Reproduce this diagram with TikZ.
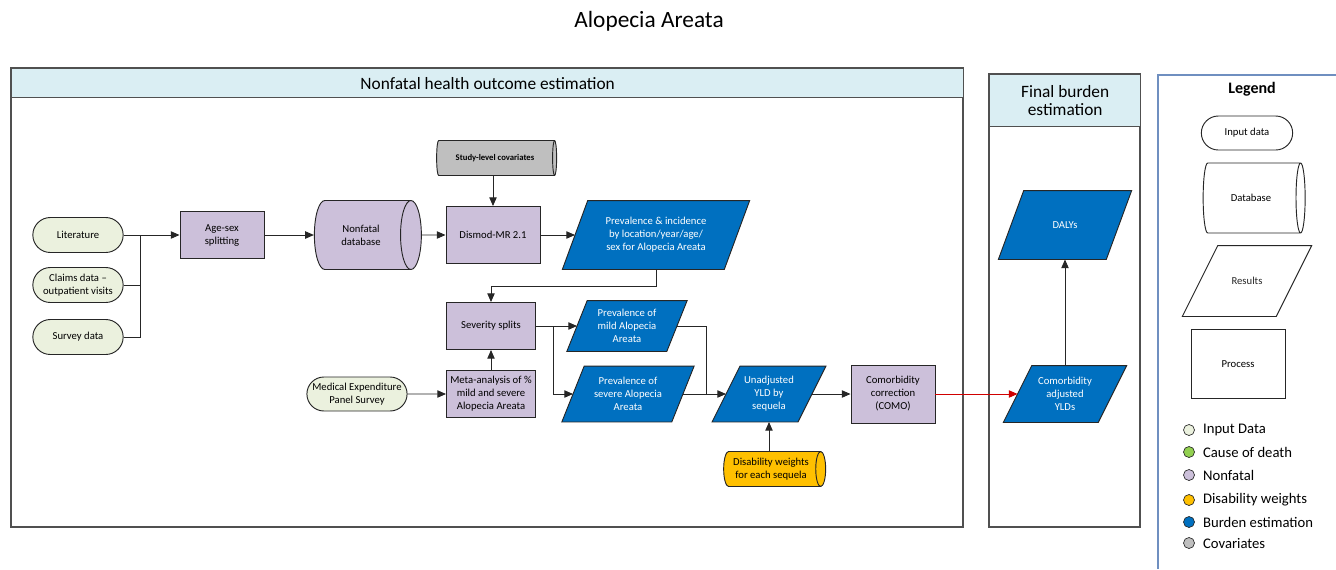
\documentclass[tikz,border=0pt]{standalone}
\usepackage{fontspec}
\setmainfont{Carlito}
\usepackage{tikz}
\usetikzlibrary{arrows.meta,positioning,shapes.geometric,shapes.misc,calc}

\definecolor{inputgreen}{HTML}{EBF1DE}
\definecolor{codgreen}{HTML}{92D050}
\definecolor{nonfatal}{HTML}{CCC0DA}
\definecolor{dweight}{HTML}{FFC000}
\definecolor{burden}{HTML}{0070C0}
\definecolor{covar}{HTML}{BFBFBF}
\definecolor{headfill}{HTML}{DAEEF3}
\definecolor{legline}{HTML}{6F8FC0}
\definecolor{bk90}{HTML}{262626}
\definecolor{bk70}{HTML}{505050}
\definecolor{arrowred}{HTML}{D00000}

% one unit = one pixel of the sheet
\newlength{\pxu}
\setlength{\pxu}{0.75pt}
\newcommand{\boxfont}{\fontsize{8}{9.75}\selectfont}

% results box: a rectangle whose sides lean to the right,
% the lean given as half-offset / height
\makeatletter
\def\skewratio{0.2}
\pgfdeclareshape{slantbox}{
  \inheritsavedanchors[from=rectangle]
  \inheritanchorborder[from=rectangle]
  \inheritanchor[from=rectangle]{center}
  \inheritanchor[from=rectangle]{north}
  \inheritanchor[from=rectangle]{south}
  \inheritanchor[from=rectangle]{east}
  \inheritanchor[from=rectangle]{west}
  \inheritanchor[from=rectangle]{mid}
  \inheritanchor[from=rectangle]{base}
  \backgroundpath{%
    \southwest \pgf@xa=\pgf@x \pgf@ya=\pgf@y
    \northeast \pgf@xb=\pgf@x \pgf@yb=\pgf@y
    \pgf@xc=\pgf@yb \advance\pgf@xc by -\pgf@ya
    \pgf@xc=\skewratio\pgf@xc
    \advance\pgf@xa by -\pgf@xc \edef\sk@bl{\the\pgf@xa}%
    \advance\pgf@xa by 2\pgf@xc \edef\sk@tl{\the\pgf@xa}%
    \advance\pgf@xb by \pgf@xc  \edef\sk@tr{\the\pgf@xb}%
    \advance\pgf@xb by -2\pgf@xc \edef\sk@br{\the\pgf@xb}%
    \edef\sk@bot{\the\pgf@ya}\edef\sk@top{\the\pgf@yb}%
    \pgfpathmoveto{\pgfqpoint{\sk@bl}{\sk@bot}}%
    \pgfpathlineto{\pgfqpoint{\sk@tl}{\sk@top}}%
    \pgfpathlineto{\pgfqpoint{\sk@tr}{\sk@top}}%
    \pgfpathlineto{\pgfqpoint{\sk@br}{\sk@bot}}%
    \pgfpathclose
  }
}
\makeatother

\tikzset{
  skew ratio/.code={\def\skewratio{#1}},
  inputbox/.style={
    rounded rectangle, draw=bk90, fill=#1, line width=0.7pt,
    minimum width=93\pxu, minimum height=35\pxu,
    font=\boxfont, align=center, inner sep=1pt
  },
  inputbox/.default=inputgreen,
  procbox/.style={
    rectangle, draw=bk90, fill=#1, line width=0.7pt,
    font=\boxfont, align=center, inner sep=2pt
  },
  procbox/.default=nonfatal,
  % cylinder sizes: minimum width is across, minimum height along the axis
  dbbox/.style={
    cylinder, aspect=0.9, draw=bk90, fill=#1, line width=0.7pt,
    font=\boxfont, align=center, inner sep=1pt
  },
  dbbox/.default=nonfatal,
  resultbox/.style={
    slantbox, draw=bk90, fill=#1, line width=0.7pt,
    text=white, font=\boxfont, align=center, inner sep=1pt
  },
  resultbox/.default=burden,
  lanehead/.style={
    rectangle, draw=bk70, fill=headfill, line width=1pt,
    anchor=north west, align=center,
    font=\fontsize{13}{13.5}\selectfont
  },
  frameline/.style={draw=bk70, line width=1pt},
  flowarrow/.style={
    -{Triangle[length=6.5pt,width=5.5pt]}, line width=0.7pt, draw=#1
  },
  flowarrow/.default=bk90,
  flowline/.style={line width=0.7pt, draw=bk90},
  legdot/.style={
    circle, draw=bk90, fill=#1, line width=0.5pt,
    minimum size=11\pxu, inner sep=0pt
  },
  legtext/.style={font=\fontsize{11}{13}\selectfont, inner sep=0pt}
}

\begin{document}
\begin{tikzpicture}[x=0.75pt, y=-0.75pt]
\useasboundingbox (0,0) rectangle (1336,569);

\node[font=\fontsize{17.5}{21}\selectfont] (title) at (649,21) {Alopecia Areata};

% swim lanes
\draw[frameline] (11,68) rectangle (963,527);
\node[lanehead, minimum width=952\pxu, minimum height=29\pxu] (nfhead) at (11,68)
  {Nonfatal health outcome estimation};
\draw[frameline] (989,74) rectangle (1140,527);
\node[lanehead, minimum width=151\pxu, minimum height=52\pxu] (fbhead) at (989,74)
  {Final burden\\estimation};

% input data
\node[inputbox] (lit) at (78,235) {Literature};
\node[inputbox] (claims) at (78,285) {Claims data --\\outpatient visits};
\node[inputbox] (survey) at (78,337) {Survey data};
\node[inputbox, minimum width=99\pxu, minimum height=34\pxu] (meps) at (357,394)
  {Medical Expenditure\\Panel Survey};

% nonfatal pipeline
\node[procbox, minimum width=84\pxu, minimum height=47\pxu] (agesex) at (222,235) {Age-sex\\splitting};
\node[dbbox, minimum width=69\pxu, minimum height=107\pxu] (nfdb) at (361,235) {Nonfatal\\database};
\node[dbbox=covar, aspect=0.4, minimum width=35\pxu, minimum height=120\pxu,
  font=\fontsize{6.5}{8}\selectfont\bfseries] (covars) at (495,158) {Study-level covariates};
\node[procbox, minimum width=94\pxu, minimum height=57\pxu] (dismod) at (493,235) {Dismod-MR 2.1};
\node[resultbox, skew ratio=0.184, minimum width=161\pxu, minimum height=68\pxu] (previnc) at (656,235)
  {Prevalence \& incidence\\by location/year/age/\\sex for Alopecia Areata};

\node[procbox, minimum width=89\pxu, minimum height=47\pxu] (sevsplit) at (491,326) {Severity splits};
\node[procbox, minimum width=89\pxu, minimum height=47\pxu] (meta) at (491,394)
  {Meta-analysis of \%\\mild and severe\\Alopecia Areata};
\node[resultbox, minimum width=99\pxu, minimum height=50\pxu] (mild) at (627,326)
  {Prevalence of\\mild Alopecia\\Areata};
\node[resultbox, minimum width=109\pxu, minimum height=55\pxu] (severe) at (628,394)
  {Prevalence of\\severe Alopecia\\Areata};
\node[resultbox, skew ratio=0.25, minimum width=85\pxu, minimum height=55\pxu] (unadj) at (769,394)
  {Unadjusted\\YLD by\\sequela};
\node[procbox, minimum width=84\pxu, minimum height=58\pxu] (como) at (893,394)
  {Comorbidity\\correction\\(COMO)};
\node[dbbox=dweight, aspect=0.4, minimum width=35\pxu, minimum height=102\pxu] (dw) at (771,469)
  {Disability weights\\for each sequela};

% final burden
\node[resultbox, skew ratio=0.25, minimum width=94\pxu, minimum height=56\pxu] (adjyld) at (1065,394)
  {Comorbidity\\adjusted\\YLDs};
\node[resultbox, skew ratio=0.184, minimum width=107\pxu, minimum height=68\pxu] (dalys) at (1065,225) {DALYs};

% connectors
\coordinate (merge) at ($(lit.east)+(17,0)$);
\draw[flowline] (claims.east) -| (merge);
\draw[flowline] (survey.east) -| (merge);
\draw[flowarrow] (lit.east) -- (agesex.west);
\draw[flowarrow] (agesex) -- (nfdb);
\draw[flowarrow] (nfdb) -- (dismod);
\draw[flowarrow] (covars.south -| dismod) -- (dismod);
\draw[flowarrow] (dismod) -- (previnc);
\draw[flowarrow] (previnc.south) -- ++(0,17) -| (sevsplit.north);
\draw[flowarrow] (meps) -- (meta);
\draw[flowarrow] (meta) -- (sevsplit);

\coordinate (fork) at ($(sevsplit.east)+(17,0)$);
\draw[flowarrow] (sevsplit.east) -- (mild);
\draw[flowarrow] (fork) |- (severe);
\coordinate (mildjoin) at ($(severe.east)!0.55!(unadj.west)$);
\draw[flowline] (mild.east) -| (mildjoin);
\draw[flowarrow] (severe) -- (unadj);
\draw[flowarrow] (dw.north -| unadj) -- (unadj);
\draw[flowarrow] (unadj) -- (como);
\draw[flowarrow=arrowred] (como) -- (adjyld);
\draw[flowarrow] (adjyld) -- (dalys);

% legend
\draw[legline, line width=0.8pt] (1336,75) -| (1158,569);
\node[font=\fontsize{12}{14}\selectfont\bfseries] (legtitle) at (1252,89) {Legend};
\node[inputbox=white, minimum width=94\pxu, minimum height=34\pxu] (keyinput) at (1247,133) {Input data};
\node[dbbox=white, minimum width=70\pxu, minimum height=102\pxu] (keydb) at (1251,198) {Database};
\node[resultbox=white, text=bk90, skew ratio=0.25,
  minimum width=93\pxu, minimum height=70\pxu] (keyres) at (1247,281) {Results};
\node[procbox=white, minimum width=94\pxu, minimum height=69\pxu] (keyproc) at (1238,364) {Process};

\node[legdot=inputgreen] (dot1) at (1189,430) {};
\node[legdot=codgreen] (dot2) at (1189,452) {};
\node[legdot=nonfatal] (dot3) at (1189,475) {};
\node[legdot=dweight] (dot4) at (1189,500) {};
\node[legdot=burden] (dot5) at (1189,522) {};
\node[legdot=covar] (dot6) at (1189,543) {};
\node[legtext, right=6pt of dot1] (key1) {Input Data};
\node[legtext, right=6pt of dot2] (key2) {Cause of death};
\node[legtext, right=6pt of dot3] (key3) {Nonfatal};
\node[legtext, right=6pt of dot4] (key4) {Disability weights};
\node[legtext, right=6pt of dot5] (key5) {Burden estimation};
\node[legtext, right=6pt of dot6] (key6) {Covariates};

\end{tikzpicture}
\end{document}
